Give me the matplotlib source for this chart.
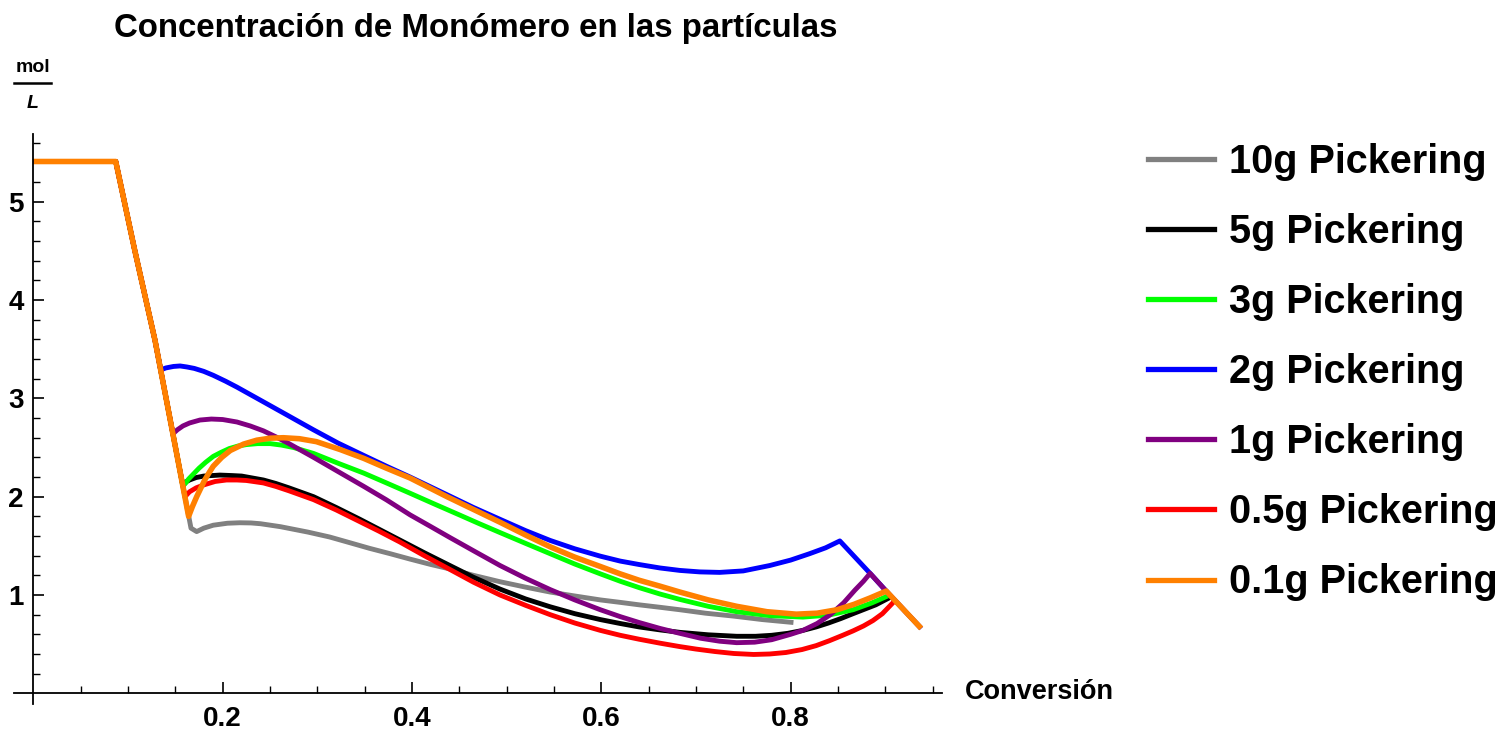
import numpy as np
import matplotlib
matplotlib.use("Agg")
import matplotlib.pyplot as plt
from matplotlib.ticker import FixedLocator
from matplotlib.lines import Line2D

plt.rcParams['font.family'] = ['Liberation Sans', 'DejaVu Sans']
plt.rcParams['font.weight'] = 'bold'

# Shared feed stage: saturated particles, then the common depletion drop
feed_x = [0.0, 0.087, 0.107, 0.1285]
feed_y = [5.41, 5.41, 4.51, 3.59]

# Shared final segment after the droplets disappear
end_x = [0.852, 0.884, 0.901, 0.938]
end_y = [1.55, 1.22, 1.04, 0.66]

gray_x = [0.1665, 0.1725, 0.180, 0.190, 0.205, 0.218, 0.230, 0.240, 0.261, 0.290, 0.313,
          0.335, 0.355, 0.377, 0.398, 0.420, 0.440, 0.465, 0.493, 0.520, 0.546, 0.572,
          0.599, 0.620, 0.640, 0.662, 0.683, 0.710, 0.740, 0.770, 0.803]
gray_y = [1.68, 1.645, 1.68, 1.71, 1.73, 1.735, 1.733, 1.725, 1.695, 1.64, 1.59,
          1.53, 1.475, 1.42, 1.365, 1.31, 1.265, 1.20, 1.135, 1.08, 1.03, 0.99,
          0.95, 0.925, 0.90, 0.875, 0.85, 0.815, 0.785, 0.75, 0.72]

black_x = [0.1579, 0.161, 0.165, 0.172, 0.180, 0.197, 0.210, 0.220, 0.243, 0.256, 0.270,
           0.283, 0.296, 0.320, 0.345, 0.366, 0.387, 0.413, 0.440, 0.465, 0.493, 0.520,
           0.546, 0.572, 0.599, 0.620, 0.640, 0.662, 0.683, 0.713, 0.743, 0.763, 0.780,
           0.797, 0.813, 0.827, 0.840, 0.853, 0.866, 0.878, 0.890, 0.906]
black_y = [2.11, 2.15, 2.17, 2.195, 2.21, 2.22, 2.215, 2.21, 2.17, 2.135, 2.09,
           2.045, 2.00, 1.89, 1.77, 1.665, 1.56, 1.43, 1.30, 1.18, 1.06, 0.96,
           0.88, 0.81, 0.75, 0.71, 0.675, 0.645, 0.62, 0.595, 0.58, 0.58, 0.59,
           0.61, 0.64, 0.675, 0.715, 0.76, 0.81, 0.855, 0.90, 0.98]

green_x = [0.1579, 0.161, 0.164, 0.170, 0.175, 0.182, 0.190, 0.198, 0.207, 0.216, 0.225,
           0.237, 0.250, 0.262, 0.275, 0.296, 0.322, 0.349, 0.373, 0.398, 0.425, 0.450,
           0.470, 0.493, 0.520, 0.546, 0.572, 0.599, 0.620, 0.640, 0.662, 0.683, 0.713,
           0.743, 0.778, 0.813, 0.840, 0.866, 0.886, 0.905]
green_y = [2.11, 2.14, 2.18, 2.24, 2.29, 2.35, 2.41, 2.45, 2.49, 2.515, 2.53,
           2.54, 2.54, 2.525, 2.50, 2.44, 2.34, 2.24, 2.14, 2.035, 1.92, 1.815,
           1.73, 1.635, 1.525, 1.42, 1.315, 1.215, 1.14, 1.075, 1.01, 0.955, 0.885,
           0.83, 0.79, 0.775, 0.795, 0.85, 0.92, 1.00]

blue_x = [0.1345, 0.140, 0.148, 0.155, 0.162, 0.170, 0.180, 0.190, 0.203, 0.215, 0.229,
          0.243, 0.270, 0.296, 0.322, 0.349, 0.373, 0.398, 0.437, 0.465, 0.493, 0.520,
          0.546, 0.572, 0.599, 0.620, 0.640, 0.662, 0.683, 0.704, 0.725, 0.750, 0.778,
          0.800, 0.820, 0.837, 0.852]
blue_y = [3.29, 3.31, 3.325, 3.33, 3.32, 3.305, 3.275, 3.235, 3.175, 3.115, 3.04,
          2.965, 2.82, 2.68, 2.545, 2.42, 2.31, 2.20, 2.02, 1.89, 1.77, 1.655,
          1.555, 1.47, 1.395, 1.345, 1.31, 1.275, 1.25, 1.235, 1.23, 1.245, 1.30,
          1.355, 1.42, 1.48, 1.55]

purple_x = [0.1474, 0.152, 0.158, 0.165, 0.176, 0.188, 0.200, 0.215, 0.229, 0.243, 0.256,
            0.270, 0.283, 0.296, 0.322, 0.349, 0.373, 0.398, 0.420, 0.440, 0.465, 0.493,
            0.520, 0.546, 0.572, 0.599, 0.620, 0.640, 0.662, 0.683, 0.705, 0.725, 0.743,
            0.762, 0.780, 0.800, 0.813, 0.828, 0.842, 0.856, 0.868, 0.877, 0.884]
purple_y = [2.64, 2.68, 2.72, 2.75, 2.78, 2.79, 2.785, 2.76, 2.72, 2.67, 2.61,
            2.54, 2.47, 2.40, 2.255, 2.105, 1.968, 1.815, 1.695, 1.585, 1.45, 1.30,
            1.17, 1.055, 0.95, 0.85, 0.78, 0.72, 0.66, 0.61, 0.56, 0.53, 0.515,
            0.52, 0.545, 0.60, 0.64, 0.71, 0.80, 0.92, 1.05, 1.14, 1.22]

red_x = [0.1601, 0.165, 0.172, 0.180, 0.192, 0.204, 0.215, 0.225, 0.243, 0.256, 0.270,
         0.283, 0.296, 0.320, 0.342, 0.365, 0.387, 0.413, 0.440, 0.465, 0.493, 0.520,
         0.546, 0.572, 0.599, 0.620, 0.640, 0.662, 0.683, 0.700, 0.720, 0.740, 0.761,
         0.778, 0.795, 0.812, 0.827, 0.841, 0.855, 0.866, 0.877, 0.887, 0.897, 0.909]
red_y = [2.00, 2.05, 2.09, 2.12, 2.155, 2.17, 2.17, 2.165, 2.14, 2.105, 2.06,
         2.015, 1.97, 1.865, 1.76, 1.65, 1.54, 1.40, 1.26, 1.13, 1.00, 0.895,
         0.80, 0.715, 0.64, 0.59, 0.55, 0.51, 0.475, 0.45, 0.425, 0.405, 0.395,
         0.40, 0.415, 0.445, 0.485, 0.535, 0.59, 0.635, 0.685, 0.74, 0.81, 0.93]

orange_x = [0.1640, 0.168, 0.1725, 0.177, 0.181, 0.186, 0.190, 0.199, 0.208, 0.222, 0.236,
            0.250, 0.264, 0.281, 0.299, 0.324, 0.349, 0.373, 0.398, 0.437, 0.465, 0.493,
            0.520, 0.546, 0.572, 0.599, 0.620, 0.640, 0.662, 0.683, 0.713, 0.743, 0.775,
            0.806, 0.828, 0.849, 0.867, 0.884, 0.901]
orange_y = [1.80, 1.90, 2.00, 2.09, 2.17, 2.25, 2.31, 2.40, 2.47, 2.535, 2.575,
            2.595, 2.60, 2.59, 2.56, 2.48, 2.39, 2.29, 2.19, 2.00, 1.87, 1.74,
            1.61, 1.49, 1.385, 1.29, 1.215, 1.15, 1.09, 1.03, 0.95, 0.885, 0.83,
            0.805, 0.815, 0.85, 0.905, 0.97, 1.04]

labels = ["10g Pickering", "5g Pickering", "3g Pickering", "2g Pickering",
          "1g Pickering", "0.5g Pickering", "0.1g Pickering"]
colors = ["#808080", "#000000", "#00ff00", "#0000ff", "#800080", "#ff0000", "#ff8000"]

x_major = [0.2, 0.4, 0.6, 0.8]
y_major = [1, 2, 3, 4, 5]


def full_curve(tx, ty, tail_from=None):
    xs = feed_x + tx
    ys = feed_y + ty
    if tail_from is not None:
        xs = xs + end_x[tail_from:]
        ys = ys + end_y[tail_from:]
    return xs, ys


series = [
    full_curve(gray_x, gray_y),
    full_curve(black_x, black_y),
    full_curve(green_x, green_y),
    full_curve(blue_x, blue_y, 1),
    full_curve(purple_x, purple_y, 2),
    full_curve(red_x, red_y),
    full_curve(orange_x, orange_y, 3),
]
widths = [3.5, 3.5, 3.5, 3.5, 3.5, 3.5, 4.0]

W, H = 1506, 732
fig = plt.figure(figsize=(W / 100, H / 100), dpi=100)
x0, x1 = -0.02, 0.96
y0, y1 = -0.11, 5.69
px_x, px_y = 946.5, 98.3
left = 33.4 + x0 * px_x
right = 33.4 + x1 * px_x
bottom = 693.3 - y0 * px_y
top = 693.3 - y1 * px_y
ax = fig.add_axes([left / W, 1 - bottom / H, (right - left) / W, (bottom - top) / H])
ax.set_xlim(x0, x1)
ax.set_ylim(y0, y1)

for (xs, ys), c, lw in zip(series, colors, widths):
    ax.plot(xs, ys, color=c, lw=lw, solid_joinstyle='round', solid_capstyle='butt',
            clip_on=False)

for s in ['top', 'right']:
    ax.spines[s].set_visible(False)
ax.spines['left'].set_position(('data', 0))
ax.spines['bottom'].set_position(('data', 0))
for s in ['left', 'bottom']:
    ax.spines[s].set_linewidth(1.3)

ax.xaxis.set_major_locator(FixedLocator(x_major))
ax.xaxis.set_minor_locator(FixedLocator(list(np.arange(0.05, 0.96, 0.05))))
ax.yaxis.set_major_locator(FixedLocator(y_major))
ax.yaxis.set_minor_locator(FixedLocator(list(np.arange(0.2, 5.61, 0.2))))
ax.set_xticklabels([f"{v:g}" for v in x_major])
ax.set_yticklabels([f"{v:g}" for v in y_major])
ax.tick_params(which='major', direction='in', length=8, width=1.2, labelsize=20, pad=9)
ax.tick_params(which='minor', direction='in', length=5, width=1.0)
ax.tick_params(axis='y', which='major', pad=7)
for t in ax.get_xticklabels() + ax.get_yticklabels():
    t.set_fontweight('bold')

fig.text(476 / W, 1 - 29 / H, "Concentración de Monómero en las partículas",
         ha='center', va='center', fontsize=23.8, fontweight='bold')
fig.text(965 / W, 1 - 692 / H, "Conversión", ha='left', va='center',
         fontsize=19.5, fontweight='bold')

# unit label drawn as a stacked fraction
fig.text(33 / W, 1 - 68 / H, "mol", ha='center', va='center', fontsize=14, fontweight='bold')
fig.add_artist(Line2D([14 / W, 51 / W], [1 - 83 / H, 1 - 83 / H], color='black', lw=1.8))
fig.text(33 / W, 1 - 104 / H, "L", ha='center', va='center', fontsize=14,
         fontweight='bold', fontstyle='italic')

handles = [Line2D([], [], color=c, lw=3.8) for c in colors]
fig.legend(handles, labels, loc='upper left', bbox_to_anchor=(1148 / W, 1 - 143 / H),
           frameon=False, borderpad=0, borderaxespad=0, handlelength=1.67,
           handletextpad=0.37, labelspacing=0.81,
           prop={'size': 28.5, 'weight': 'bold'})

fig.savefig("out.png", dpi=100)
